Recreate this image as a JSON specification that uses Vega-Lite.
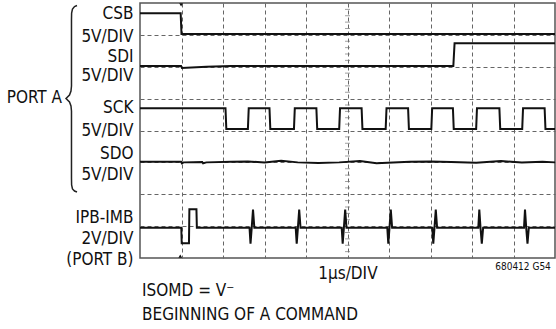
{
  "$schema": "https://vega.github.io/schema/vega-lite/v6.json",
  "width": 415,
  "height": 255,
  "autosize": {"type": "none"},
  "padding": {"left": 140, "top": 3, "right": 1, "bottom": 71},
  "background": "white",
  "config": {
    "view": {"stroke": "#555", "strokeWidth": 1.5},
    "font": "Liberation Sans Narrow, DejaVu Sans Condensed, Liberation Sans, sans-serif",
    "axis": {"labels": false, "ticks": false, "domain": false, "title": null, "grid": true, "gridColor": "#666", "gridDash": [4, 3], "gridWidth": 1, "gridOpacity": 1}
  },
  "datasets": {
    "traces": [
      {"s": "CSB", "x": 0, "y": 7.68}, {"s": "CSB", "x": 0.98, "y": 7.68}, {"s": "CSB", "x": 1.0, "y": 7.03}, {"s": "CSB", "x": 10, "y": 7.03},
      {"s": "SDI", "x": 0, "y": 6.02}, {"s": "SDI", "x": 0.99, "y": 6.02}, {"s": "SDI", "x": 1.01, "y": 5.96}, {"s": "SDI", "x": 1.6, "y": 6.0}, {"s": "SDI", "x": 2.2, "y": 6.02}, {"s": "SDI", "x": 7.55, "y": 6.02}, {"s": "SDI", "x": 7.58, "y": 6.74}, {"s": "SDI", "x": 10, "y": 6.74},
      {"s": "SCK", "x": 0, "y": 4.7},
      {"s": "SCK", "x": 2.06, "y": 4.7}, {"s": "SCK", "x": 2.08, "y": 4.05},
      {"s": "SCK", "x": 2.6, "y": 4.05}, {"s": "SCK", "x": 2.62, "y": 4.7},
      {"s": "SCK", "x": 3.12, "y": 4.7}, {"s": "SCK", "x": 3.14, "y": 4.05},
      {"s": "SCK", "x": 3.71, "y": 4.05}, {"s": "SCK", "x": 3.73, "y": 4.7},
      {"s": "SCK", "x": 4.25, "y": 4.7}, {"s": "SCK", "x": 4.27, "y": 4.05},
      {"s": "SCK", "x": 4.8, "y": 4.05}, {"s": "SCK", "x": 4.82, "y": 4.7},
      {"s": "SCK", "x": 5.34, "y": 4.7}, {"s": "SCK", "x": 5.36, "y": 4.05},
      {"s": "SCK", "x": 5.92, "y": 4.05}, {"s": "SCK", "x": 5.94, "y": 4.7},
      {"s": "SCK", "x": 6.46, "y": 4.7}, {"s": "SCK", "x": 6.48, "y": 4.05},
      {"s": "SCK", "x": 7.02, "y": 4.05}, {"s": "SCK", "x": 7.04, "y": 4.7},
      {"s": "SCK", "x": 7.54, "y": 4.7}, {"s": "SCK", "x": 7.56, "y": 4.05},
      {"s": "SCK", "x": 8.1, "y": 4.05}, {"s": "SCK", "x": 8.12, "y": 4.7},
      {"s": "SCK", "x": 8.66, "y": 4.7}, {"s": "SCK", "x": 8.68, "y": 4.05},
      {"s": "SCK", "x": 9.21, "y": 4.05}, {"s": "SCK", "x": 9.23, "y": 4.7},
      {"s": "SCK", "x": 9.75, "y": 4.7}, {"s": "SCK", "x": 9.77, "y": 4.05},
      {"s": "SCK", "x": 10, "y": 4.05},
      {"s": "SDO", "x": 0, "y": 3.02}, {"s": "SDO", "x": 0.99, "y": 3.02}, {"s": "SDO", "x": 1.01, "y": 2.97}, {"s": "SDO", "x": 1.05, "y": 3.0}, {"s": "SDO", "x": 1.5, "y": 3.01}, {"s": "SDO", "x": 1.52, "y": 2.97}, {"s": "SDO", "x": 1.6, "y": 3.0}, {"s": "SDO", "x": 2.2, "y": 3.02}, {"s": "SDO", "x": 2.6, "y": 3.03}, {"s": "SDO", "x": 3.0, "y": 3.0}, {"s": "SDO", "x": 3.4, "y": 3.05}, {"s": "SDO", "x": 3.8, "y": 3.0}, {"s": "SDO", "x": 4.3, "y": 2.98}, {"s": "SDO", "x": 4.8, "y": 3.0}, {"s": "SDO", "x": 5.3, "y": 3.04}, {"s": "SDO", "x": 5.7, "y": 2.97}, {"s": "SDO", "x": 6.5, "y": 3.02}, {"s": "SDO", "x": 7.0, "y": 3.03}, {"s": "SDO", "x": 7.5, "y": 3.01}, {"s": "SDO", "x": 8.1, "y": 2.99}, {"s": "SDO", "x": 8.7, "y": 3.04}, {"s": "SDO", "x": 9.2, "y": 3.0}, {"s": "SDO", "x": 9.7, "y": 3.02}, {"s": "SDO", "x": 10, "y": 3.0},
      {"s": "IPB", "x": 0, "y": 0.95}, {"s": "IPB", "x": 0.995, "y": 0.95}, {"s": "IPB", "x": 1.005, "y": 0.46}, {"s": "IPB", "x": 1.18, "y": 0.46}, {"s": "IPB", "x": 1.19, "y": 1.53}, {"s": "IPB", "x": 1.36, "y": 1.53}, {"s": "IPB", "x": 1.37, "y": 0.95},
      {"s": "IPB", "x": 2.639, "y": 0.95}, {"s": "IPB", "x": 2.663, "y": 0.45}, {"s": "IPB", "x": 2.692, "y": 0.95}, {"s": "IPB", "x": 2.723, "y": 1.52}, {"s": "IPB", "x": 2.755, "y": 0.95},
      {"s": "IPB", "x": 3.752, "y": 0.95}, {"s": "IPB", "x": 3.776, "y": 0.45}, {"s": "IPB", "x": 3.805, "y": 0.95}, {"s": "IPB", "x": 3.836, "y": 1.52}, {"s": "IPB", "x": 3.868, "y": 0.95},
      {"s": "IPB", "x": 4.86, "y": 0.95}, {"s": "IPB", "x": 4.884, "y": 0.45}, {"s": "IPB", "x": 4.913, "y": 0.95}, {"s": "IPB", "x": 4.944, "y": 1.52}, {"s": "IPB", "x": 4.976, "y": 0.95},
      {"s": "IPB", "x": 5.959, "y": 0.95}, {"s": "IPB", "x": 5.983, "y": 0.45}, {"s": "IPB", "x": 6.012, "y": 0.95}, {"s": "IPB", "x": 6.043, "y": 1.52}, {"s": "IPB", "x": 6.075, "y": 0.95},
      {"s": "IPB", "x": 7.043, "y": 0.95}, {"s": "IPB", "x": 7.067, "y": 0.45}, {"s": "IPB", "x": 7.096, "y": 0.95}, {"s": "IPB", "x": 7.127, "y": 1.52}, {"s": "IPB", "x": 7.159, "y": 0.95},
      {"s": "IPB", "x": 8.152, "y": 0.95}, {"s": "IPB", "x": 8.176, "y": 1.52}, {"s": "IPB", "x": 8.205, "y": 0.95}, {"s": "IPB", "x": 8.236, "y": 0.45}, {"s": "IPB", "x": 8.268, "y": 0.95},
      {"s": "IPB", "x": 9.253, "y": 0.95}, {"s": "IPB", "x": 9.277, "y": 1.52}, {"s": "IPB", "x": 9.306, "y": 0.95}, {"s": "IPB", "x": 9.337, "y": 0.45}, {"s": "IPB", "x": 9.369, "y": 0.95},
      {"s": "IPB", "x": 10, "y": 0.95}
    ],
    "brace": [
      {"i": 0, "x": -1.518, "y": 7.922}, {"i": 1, "x": -1.578, "y": 7.89}, {"i": 2, "x": -1.627, "y": 7.812}, {"i": 3, "x": -1.648, "y": 7.686}, {"i": 4, "x": -1.651, "y": 7.467},
      {"i": 5, "x": -1.651, "y": 5.396}, {"i": 6, "x": -1.663, "y": 5.239}, {"i": 7, "x": -1.699, "y": 5.114}, {"i": 8, "x": -1.783, "y": 5.004},
      {"i": 9, "x": -1.699, "y": 4.894}, {"i": 10, "x": -1.663, "y": 4.769}, {"i": 11, "x": -1.651, "y": 4.612},
      {"i": 12, "x": -1.651, "y": 2.51}, {"i": 13, "x": -1.648, "y": 2.29}, {"i": 14, "x": -1.627, "y": 2.165}, {"i": 15, "x": -1.578, "y": 2.102}, {"i": 16, "x": -1.518, "y": 2.071}
    ],
    "vticks": [
      {"y": 0.2}, {"y": 0.4}, {"y": 0.6}, {"y": 0.8}, {"y": 1.2}, {"y": 1.4}, {"y": 1.6}, {"y": 1.8},
      {"y": 2.2}, {"y": 2.4}, {"y": 2.6}, {"y": 2.8}, {"y": 3.2}, {"y": 3.4}, {"y": 3.6}, {"y": 3.8},
      {"y": 4.2}, {"y": 4.4}, {"y": 4.6}, {"y": 4.8}, {"y": 5.2}, {"y": 5.4}, {"y": 5.6}, {"y": 5.8},
      {"y": 6.2}, {"y": 6.4}, {"y": 6.6}, {"y": 6.8}, {"y": 7.2}, {"y": 7.4}, {"y": 7.6}, {"y": 7.8}
    ],
    "labels": [
      {"g": "ch", "text": "CSB", "x": -0.157, "y": 7.655},
      {"g": "ch", "text": "5V/DIV", "x": -0.157, "y": 6.93},
      {"g": "ch", "text": "SDI", "x": -0.157, "y": 6.32},
      {"g": "ch", "text": "5V/DIV", "x": -0.157, "y": 5.7},
      {"g": "ch", "text": "SCK", "x": -0.157, "y": 4.71},
      {"g": "ch", "text": "5V/DIV", "x": -0.157, "y": 3.98},
      {"g": "ch", "text": "SDO", "x": -0.157, "y": 3.27},
      {"g": "ch", "text": "5V/DIV", "x": -0.157, "y": 2.6},
      {"g": "ch", "text": "IPB-IMB", "x": -0.157, "y": 1.255},
      {"g": "ch", "text": "2V/DIV", "x": -0.157, "y": 0.6},
      {"g": "ch", "text": "(PORT B)", "x": -0.157, "y": -0.05},
      {"g": "ch", "text": "PORT A", "x": -1.88, "y": 5.01},
      {"g": "mid", "text": "1µs/DIV", "x": 5.01, "y": -0.5},
      {"g": "code", "text": "680412 G54", "x": 9.9, "y": -0.28},
      {"g": "note", "text": "ISOMD = V⁻", "x": 0.05, "y": -1.035},
      {"g": "note", "text": "BEGINNING OF A COMMAND", "x": 0.05, "y": -1.79}
    ],
    "markers": [
      {"shape": "triangle-down", "x": 0.99, "y": 7.94},
      {"shape": "triangle-up", "x": 0.97, "y": 0.06}
    ]
  },
  "layer": [
    {
      "data": {"name": "vticks"},
      "mark": {"type": "tick", "orient": "horizontal", "size": 5, "thickness": 1, "color": "#777"},
      "encoding": {
        "x": {"datum": 5, "type": "quantitative", "scale": {"domain": [0, 10], "nice": false, "zero": false}, "axis": {"values": [1, 2, 3, 4, 5, 6, 7, 8, 9]}},
        "y": {"field": "y", "type": "quantitative", "scale": {"domain": [0, 8], "nice": false, "zero": false}, "axis": {"values": [1, 2, 3, 4, 5, 6, 7]}}
      }
    },
    {
      "data": {"name": "traces"},
      "mark": {"type": "line", "color": "#111", "strokeWidth": 2, "strokeJoin": "miter"},
      "encoding": {
        "x": {"field": "x", "type": "quantitative"},
        "y": {"field": "y", "type": "quantitative"},
        "detail": {"field": "s"}
      }
    },
    {
      "data": {"name": "brace"},
      "mark": {"type": "line", "color": "#222", "strokeWidth": 1.5},
      "encoding": {
        "x": {"field": "x", "type": "quantitative"},
        "y": {"field": "y", "type": "quantitative"},
        "order": {"field": "i"}
      }
    },
    {
      "data": {"name": "markers"},
      "mark": {"type": "point", "filled": true, "size": 14, "color": "#111", "opacity": 1},
      "encoding": {
        "x": {"field": "x", "type": "quantitative"},
        "y": {"field": "y", "type": "quantitative"},
        "shape": {"field": "shape", "type": "nominal", "scale": null, "legend": null}
      }
    },
    {
      "data": {"name": "labels"},
      "transform": [{"filter": "datum.g === 'ch'"}],
      "mark": {"type": "text", "align": "right", "baseline": "middle", "fontSize": 17, "color": "#111"},
      "encoding": {
        "x": {"field": "x", "type": "quantitative"},
        "y": {"field": "y", "type": "quantitative"},
        "text": {"field": "text"}
      }
    },
    {
      "data": {"name": "labels"},
      "transform": [{"filter": "datum.g === 'mid'"}],
      "mark": {"type": "text", "align": "center", "baseline": "middle", "fontSize": 17, "color": "#111"},
      "encoding": {
        "x": {"field": "x", "type": "quantitative"},
        "y": {"field": "y", "type": "quantitative"},
        "text": {"field": "text"}
      }
    },
    {
      "data": {"name": "labels"},
      "transform": [{"filter": "datum.g === 'code'"}],
      "mark": {"type": "text", "align": "right", "baseline": "middle", "fontSize": 10, "color": "#111"},
      "encoding": {
        "x": {"field": "x", "type": "quantitative"},
        "y": {"field": "y", "type": "quantitative"},
        "text": {"field": "text"}
      }
    },
    {
      "data": {"name": "labels"},
      "transform": [{"filter": "datum.g === 'note'"}],
      "mark": {"type": "text", "align": "left", "baseline": "middle", "fontSize": 17, "color": "#111"},
      "encoding": {
        "x": {"field": "x", "type": "quantitative"},
        "y": {"field": "y", "type": "quantitative"},
        "text": {"field": "text"}
      }
    }
  ]
}
